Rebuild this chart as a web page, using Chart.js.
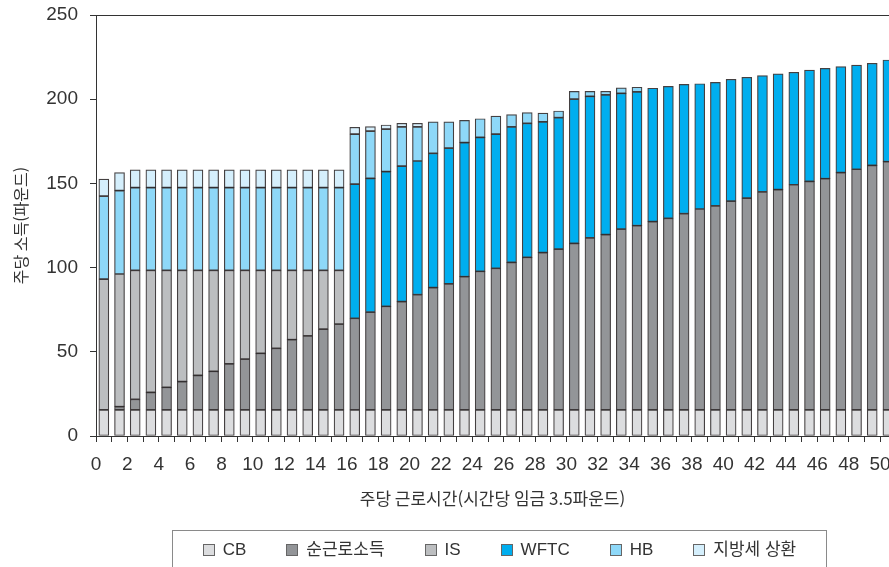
<!DOCTYPE html>
<html lang="ko">
<head>
<meta charset="utf-8">
<title>주당 소득</title>
<script src="https://cdn.jsdelivr.net/npm/chart.js@4.4.1/dist/chart.umd.min.js"></script>
<style>
  html, body { margin: 0; padding: 0; background: #fff; overflow: hidden; }
  #wrap { position: relative; width: 889px; height: 567px; }
  #legend {
    position: absolute; left: 172px; top: 530px; width: 655px;
    box-sizing: border-box; border: 1px solid #8a8a8a;
    display: flex; justify-content: center; align-items: center; gap: 40px;
    height: 38px; border-bottom: none;
    font: 17px "Liberation Sans", "Noto Sans CJK KR", sans-serif; color: #333;
  }
  #legend .item { display: flex; align-items: center; white-space: nowrap; height: 20px; line-height: 20px; }
  #legend .box { width: 10px; height: 10px; border: 1px solid #666; margin-right: 8px; flex: none; }
</style>
</head>
<body>
<div id="wrap">
  <canvas id="chart"></canvas>
  <div id="legend"></div>
</div>
<script>
// hours worked per week (bar sits between tick h and h+1)
const hours = [0, 1, 2, 3, 4, 5, 6, 7, 8, 9, 10, 11, 12, 13, 14, 15, 16, 17, 18, 19, 20,
  21, 22, 23, 24, 25, 26, 27, 28, 29, 30, 31, 32, 33, 34, 35, 36, 37, 38, 39, 40,
  41, 42, 43, 44, 45, 46, 47, 48, 49, 50];

const childBenefit = [15.5, 15.5, 15.5, 15.5, 15.5, 15.5, 15.5, 15.5, 15.5, 15.5, 15.5,
  15.5, 15.5, 15.5, 15.5, 15.5, 15.5, 15.5, 15.5, 15.5, 15.5, 15.5, 15.5, 15.5, 15.5, 15.5,
  15.5, 15.5, 15.5, 15.5, 15.5, 15.5, 15.5, 15.5, 15.5, 15.5, 15.5, 15.5, 15.5, 15.5, 15.5,
  15.5, 15.5, 15.5, 15.5, 15.5, 15.5, 15.5, 15.5, 15.5, 15.5];

const netEarnings = [0, 1.9, 6.3, 10.4, 13.4, 16.8, 20.5, 22.9, 27.3, 30.2, 33.6,
  36.6, 41.7, 43.9, 47.9, 51.0, 54.4, 58.0, 61.5, 64.3, 68.4, 72.6, 74.9, 79.1, 82.3, 84.1,
  87.6, 90.6, 93.4, 95.5, 98.9, 102.1, 104.1, 107.4, 109.4, 111.8, 113.8, 116.5, 119.3, 121.1, 124.0,
  125.8, 129.4, 130.8, 133.7, 135.7, 137.3, 140.9, 142.9, 145.2, 147.4];

const incomeSupport = [77.7, 78.8, 76.6, 72.5, 69.5, 66.1, 62.4, 60.0, 55.6, 52.7, 49.3,
  46.3, 41.2, 39.0, 35.0, 31.9, 0, 0, 0, 0, 0, 0, 0, 0, 0, 0,
  0, 0, 0, 0, 0, 0, 0, 0, 0, 0, 0, 0, 0, 0, 0,
  0, 0, 0, 0, 0, 0, 0, 0, 0, 0];

const wftc = [0, 0, 0, 0, 0, 0, 0, 0, 0, 0, 0,
  0, 0, 0, 0, 0, 79.7, 79.5, 80.0, 80.5, 79.4, 79.8, 80.6, 79.6, 79.5, 79.7,
  80.4, 79.6, 77.6, 78.0, 85.7, 84.1, 82.9, 80.6, 79.4, 79.2, 78.3, 76.8, 74.4, 73.4, 72.3,
  71.7, 69.1, 68.7, 66.8, 66.1, 65.5, 62.9, 61.9, 60.6, 60.4];

const housingBenefit = [49.3, 49.5, 49.1, 49.1, 49.1, 49.1, 49.1, 49.1, 49.1, 49.1, 49.1,
  49.1, 49.1, 49.1, 49.1, 49.1, 29.7, 28.1, 25.3, 23.2, 20.2, 18.7, 15.6, 13.2, 11.1, 10.7,
  7.3, 6.3, 5.3, 4.0, 4.5, 2.9, 2.2, 3.2, 2.8, 0, 0, 0, 0, 0, 0,
  0, 0, 0, 0, 0, 0, 0, 0, 0, 0];

const councilTax = [10.1, 10.7, 10.5, 10.5, 10.5, 10.5, 10.5, 10.5, 10.5, 10.5, 10.5,
  10.5, 10.5, 10.5, 10.5, 10.5, 4.0, 2.6, 2.4, 2.2, 2.2, 0, 0, 0, 0, 0,
  0, 0, 0, 0, 0, 0, 0, 0, 0, 0, 0, 0, 0, 0, 0,
  0, 0, 0, 0, 0, 0, 0, 0, 0, 0];

const seriesNames = ["CB", "순근로소득", "IS", "WFTC", "HB", "지방세 상환"];
const seriesColors = ["#dcdddf", "#939598", "#bcbec0", "#00aeef", "#8ed8f8", "#d5effc"];
const seriesValues = [childBenefit, netEarnings, incomeSupport, wftc, housingBenefit, councilTax];

const FONT = '"Liberation Sans", "Noto Sans CJK KR", sans-serif';
const KFONT = '"Noto Sans CJK KR", sans-serif';

const datasets = seriesNames.map((name, s) => ({
  label: name,
  data: hours.map((h, i) => ({ x: h + 0.5, y: seriesValues[s][i] })),
  backgroundColor: seriesColors[s],
  borderColor: "rgba(35,31,32,0.85)",
  borderWidth: 1.2,
  borderSkipped: false,
  barThickness: 10,
}));

const chart = new Chart(document.getElementById("chart"), {
  type: "bar",
  data: { datasets },
  options: {
    responsive: true,
    maintainAspectRatio: false,
    animation: false,
    layout: { padding: { top: 15, right: 0, bottom: 40, left: 0 } },
    plugins: {
      legend: { display: false },
      tooltip: { enabled: false },
    },
    scales: {
      x: {
        type: "linear",
        stacked: true,
        offset: false,
        min: 0,
        max: 50.57,
        afterBuildTicks: (s) => { s.ticks = s.ticks.filter((t) => Number.isInteger(t.value)); },
        afterFit: (s) => { s.height = 91; s.paddingLeft = 0; s.paddingRight = 0; },
        ticks: {
          stepSize: 1,
          includeBounds: false,
          autoSkip: false,
          maxRotation: 0,
          padding: 11,
          color: "#333",
          font: { family: FONT, size: 19 },
          callback: (v) => (v % 2 === 0 ? v : ""),
        },
        grid: { drawOnChartArea: false, offset: false, tickLength: 6, tickColor: "#333" },
        border: { color: "#333", width: 1 },
        title: {
          display: true,
          text: "주당 근로시간(시간당 임금 3.5파운드)",
          color: "#333",
          font: { family: KFONT, size: 17 },
          padding: { top: 0, bottom: 18 },
        },
      },
      y: {
        stacked: true,
        min: 0,
        max: 250,
        afterFit: (s) => { s.width = 96; s.paddingTop = 0; s.paddingBottom = 0; },
        ticks: {
          stepSize: 50,
          padding: 12,
          color: "#333",
          font: { family: FONT, size: 19 },
        },
        grid: {
          color: (c) => (c.tick && c.tick.value === 250 ? "#333" : "rgba(0,0,0,0)"),
          tickLength: 6,
          tickColor: "#333",
        },
        border: { color: "#333", width: 1 },
        title: {
          display: true,
          text: "주당 소득(파운드)",
          color: "#333",
          font: { family: KFONT, size: 16 },
          padding: { top: 11, bottom: 0 },
        },
      },
    },
  },
});

// legend built from the chart's datasets
const legendEl = document.getElementById("legend");
chart.data.datasets.forEach((ds) => {
  const item = document.createElement("span");
  item.className = "item";
  const box = document.createElement("span");
  box.className = "box";
  box.style.background = ds.backgroundColor;
  item.appendChild(box);
  item.appendChild(document.createTextNode(ds.label));
  legendEl.appendChild(item);
});
</script>
</body>
</html>
